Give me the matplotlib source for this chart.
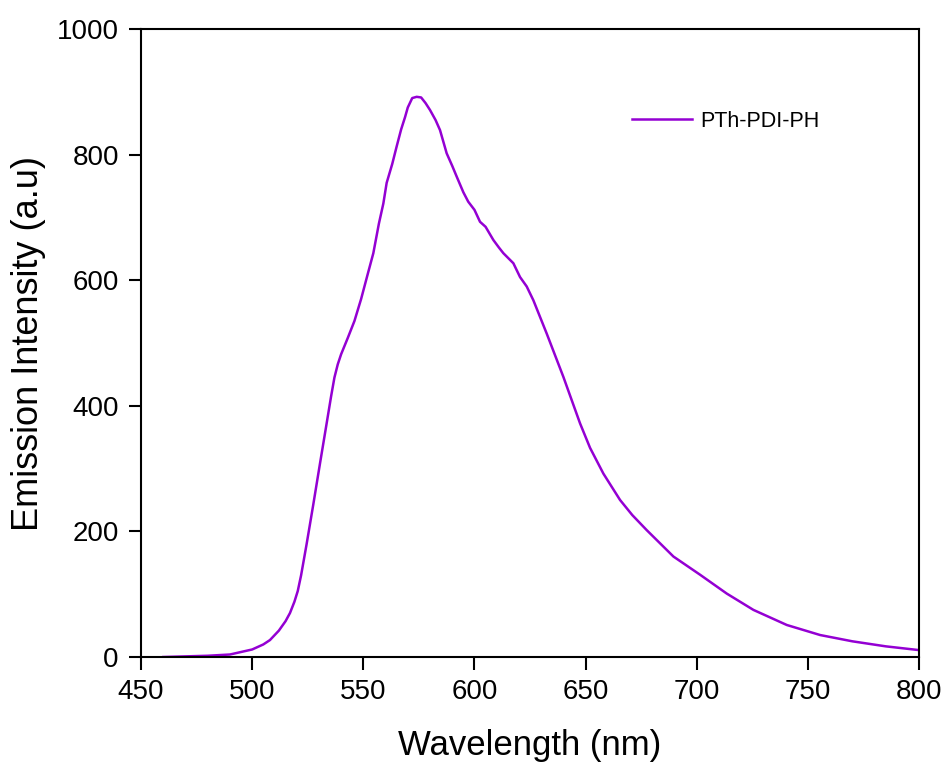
import matplotlib.pyplot as plt

plt.rcParams['font.family'] = ['Liberation Sans', 'DejaVu Sans']

wavelength = [460, 470, 480, 490, 495, 500, 505, 508, 512, 515, 517, 519, 520.5,
              522, 524.5, 527.5, 530.5, 533.5, 535.5, 537, 538.5, 540, 543, 546,
              549, 552, 554.5, 557, 559, 560.5, 563, 565, 567, 568.8, 570, 572,
              574, 576, 578, 580, 582.5, 584.5, 587.5, 590, 592, 595, 597.2, 600,
              602.5, 605, 608.5, 611, 613, 617.5, 620.5, 623.5, 626.5, 632.5,
              640, 647.5, 652, 658, 665.5, 671, 677.5, 689.5, 701.5, 713.5,
              725.5, 740.5, 755.5, 770, 785, 800]
intensity = [0, 1, 2, 4, 8, 12, 20, 27, 42, 57, 70, 88, 105,
             130, 180, 243, 308, 372, 415, 445, 466, 482, 508, 535,
             570, 610, 643, 690, 722, 755, 785, 813, 840, 860, 875, 890,
             892, 891, 882, 871, 855, 839, 802, 782, 765, 740, 725, 712,
             693, 685, 664, 652, 643, 627, 605, 590, 568, 515,
             446, 372, 333, 292, 250, 226, 202, 160, 131, 101,
             75, 51, 35, 25, 17, 11]

fig = plt.figure(figsize=(9.51, 7.67), dpi=100)
ax = fig.add_axes([0.1483, 0.1434, 0.8181, 0.8188])
ax.plot(wavelength, intensity, color='#9400D3', lw=1.8, label='PTh-PDI-PH')

ax.set_xlim(450, 800)
ax.set_ylim(0, 1000)
ax.set_xticks(range(450, 801, 50))
ax.set_yticks(range(0, 1001, 200))
ax.tick_params(direction='out', length=9, width=1.5, pad=7, labelsize=20)
for s in ax.spines.values():
    s.set_linewidth(1.5)

ax.set_xlabel('Wavelength (nm)', fontsize=25, labelpad=17)
ax.set_ylabel('Emission Intensity (a.u)', fontsize=26, labelpad=8)
ax.legend(loc='center left', bbox_to_anchor=(0.631, 0.853), frameon=False,
          fontsize=15.5, handlelength=2.8, handletextpad=0.37,
          borderaxespad=0, borderpad=0)

plt.savefig('out.png', dpi=100)
